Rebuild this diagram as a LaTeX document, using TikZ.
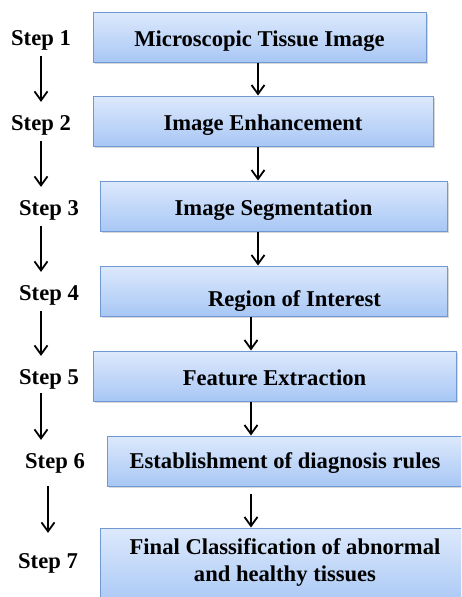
\documentclass[tikz,border=0pt]{standalone}
\usepackage{fontspec}
\setmainfont{Liberation Serif}
\usetikzlibrary{positioning,arrows.meta,shadows}
\definecolor{boxtop}{HTML}{DDE9FC}
\definecolor{boxbottom}{HTML}{A8C7F5}
\definecolor{boxline}{HTML}{7098D2}

\begin{document}
\begin{tikzpicture}[x=1pt,y=-1pt,every node/.style={font=\bfseries\fontsize{22.6}{27}\selectfont},stepbox/.style={draw=boxline, line width=1pt, top color=boxtop, bottom color=boxbottom, minimum height=50, inner sep=2, align=center, text height=21, text depth=3, drop shadow={shadow xshift=1.5pt, shadow yshift=-1.8pt, opacity=0.3}},steplabel/.style={inner sep=2},flow/.style={line width=1.8pt, -{Straight Barb[length=9pt, width=13pt, line width=1.8pt]}}]
\clip (0,0) rectangle (461,597);
\fill[white] (0,0) rectangle (461,597);
\node[stepbox, minimum width=333] (box1) at (259.5,37) {Microscopic Tissue Image};
\node[stepbox, minimum width=340] (box2) at (263,121) {Image Enhancement};
\node[stepbox, minimum width=347] (box3) at (273.5,206) {Image Segmentation};
\node[stepbox, minimum width=347, text height=33, text depth=2] (box4) at (273.5,291) {\hspace*{42pt}Region of Interest};
\node[stepbox, minimum width=363] (box5) at (274.5,376) {Feature Extraction};
\node[stepbox, minimum width=356, text height=17] (box6) at (285,461) {Establishment of diagnosis rules};
\node[stepbox, minimum width=370, minimum height=78, text height=, text depth=] (box7) at (285,567) {Final Classification of abnormal\\ and healthy tissues\\[-13pt]\mbox{}};
\node[steplabel] (step1) at (41,40) {Step 1};
\node[steplabel] (step2) at (41,125) {Step 2};
\node[steplabel] (step3) at (49,210) {Step 3};
\node[steplabel] (step4) at (49,295) {Step 4};
\node[steplabel] (step5) at (49,379) {Step 5};
\node[steplabel] (step6) at (55,463) {Step 6};
\node[steplabel] (step7) at (48,563) {Step 7};
\coordinate (upper) at (258,0);
\coordinate (lower) at (251,0);
\draw[flow] (box1.south -| upper) -- (box2.north -| upper);
\draw[flow] (box2.south -| upper) -- (box3.north -| upper);
\draw[flow] (box3.south -| upper) -- (box4.north -| upper);
\draw[flow] (box4.south -| lower) -- (box5.north -| lower);
\draw[flow] (box5.south -| lower) -- (box6.north -| lower);
\draw[flow, shorten <=7pt] (box6.south -| lower) -- (box7.north -| lower);
\draw[flow, shorten <=4pt, shorten >=11pt] (step1.south) -- (step2.north);
\draw[flow, shorten <=4pt, shorten >=11pt] (step2.south) -- (step2.south |- step3.north);
\draw[flow, shorten <=4pt, shorten >=11pt] (step3.south -| step1) -- (step4.north -| step1);
\draw[flow, shorten <=4pt, shorten >=11pt] (step4.south -| step1) -- (step5.north -| step1);
\draw[flow, shorten <=2pt, shorten >=11pt] (step5.south -| step1) -- (step6.north -| step1);
\draw[flow, shorten <=11pt, shorten >=18pt] (step6.south -| step7) -- (step7.north);
\end{tikzpicture}
\end{document}
